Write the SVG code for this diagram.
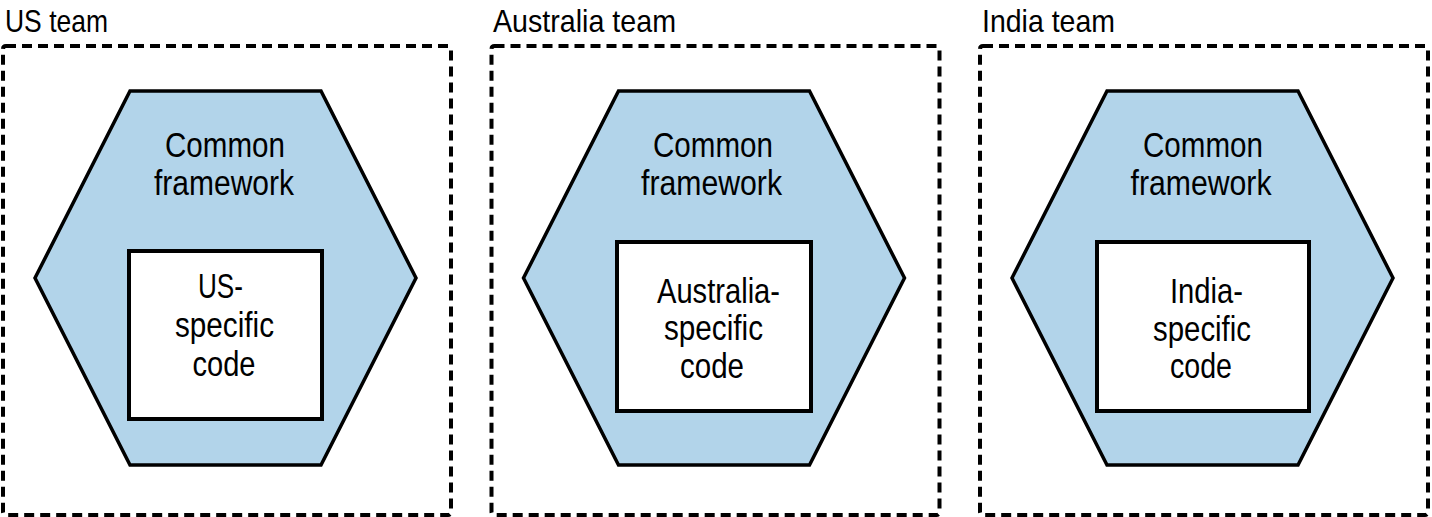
<svg xmlns="http://www.w3.org/2000/svg" width="1432" height="517" viewBox="0 0 1432 517">
<style>
.team{fill:none;stroke:#000;stroke-width:4;stroke-dasharray:10 6}
.hex{fill:#b2d4ea;stroke:#000;stroke-width:3.5;stroke-linejoin:miter}
.box{fill:#fff;stroke:#000;stroke-width:4}
text{font-family:"Liberation Sans Narrow","Liberation Sans",Arial,sans-serif;fill:#000}
.title{font-size:32px}
.lbl{font-size:35px;text-anchor:middle}
</style>
<rect width="1432" height="517" fill="#fff"/>
<g id="us-team">
<rect class="team" x="3" y="46" width="448" height="469" rx="3"/>
<text class="title" x="5" y="32" textLength="103" lengthAdjust="spacingAndGlyphs">US team</text>
</g>
<g id="us-framework">
<polygon class="hex" points="130,91 321,91 416,278 321,465 130,465 35,278"/>
<text class="lbl" x="225" y="157" textLength="120" lengthAdjust="spacingAndGlyphs">Common</text>
<text class="lbl" x="224" y="195" textLength="140" lengthAdjust="spacingAndGlyphs">framework</text>
</g>
<g id="us-code">
<rect class="box" x="129" y="251" width="193" height="168"/>
<text class="lbl" x="220.5" y="298" textLength="45" lengthAdjust="spacingAndGlyphs">US-</text>
<text class="lbl" x="224.5" y="337" textLength="99" lengthAdjust="spacingAndGlyphs">specific</text>
<text class="lbl" x="224" y="376" textLength="63" lengthAdjust="spacingAndGlyphs">code</text>
</g>
<g id="australia-team">
<rect class="team" x="491.5" y="46" width="448" height="469" rx="3"/>
<text class="title" x="493" y="32" textLength="183" lengthAdjust="spacingAndGlyphs">Australia team</text>
</g>
<g id="australia-framework">
<polygon class="hex" points="618.5,91 809.5,91 904.5,278 809.5,465 618.5,465 523.5,278"/>
<text class="lbl" x="713" y="157" textLength="120" lengthAdjust="spacingAndGlyphs">Common</text>
<text class="lbl" x="711.5" y="195" textLength="141" lengthAdjust="spacingAndGlyphs">framework</text>
</g>
<g id="australia-code">
<rect class="box" x="617" y="242" width="194" height="169"/>
<text class="lbl" x="718.5" y="303" textLength="123" lengthAdjust="spacingAndGlyphs">Australia-</text>
<text class="lbl" x="713.5" y="340" textLength="99" lengthAdjust="spacingAndGlyphs">specific</text>
<text class="lbl" x="712" y="378" textLength="64" lengthAdjust="spacingAndGlyphs">code</text>
</g>
<g id="india-team">
<rect class="team" x="980" y="46" width="448" height="469" rx="3"/>
<text class="title" x="982" y="32" textLength="133" lengthAdjust="spacingAndGlyphs">India team</text>
</g>
<g id="india-framework">
<polygon class="hex" points="1107,91 1298,91 1393,278 1298,465 1107,465 1012,278"/>
<text class="lbl" x="1203" y="157" textLength="120" lengthAdjust="spacingAndGlyphs">Common</text>
<text class="lbl" x="1201" y="195" textLength="141" lengthAdjust="spacingAndGlyphs">framework</text>
</g>
<g id="india-code">
<rect class="box" x="1097" y="242" width="212" height="169"/>
<text class="lbl" x="1206.5" y="303" textLength="73" lengthAdjust="spacingAndGlyphs">India-</text>
<text class="lbl" x="1202" y="341" textLength="98" lengthAdjust="spacingAndGlyphs">specific</text>
<text class="lbl" x="1201" y="378" textLength="62" lengthAdjust="spacingAndGlyphs">code</text>
</g>
<g id="connectors"></g>
</svg>
